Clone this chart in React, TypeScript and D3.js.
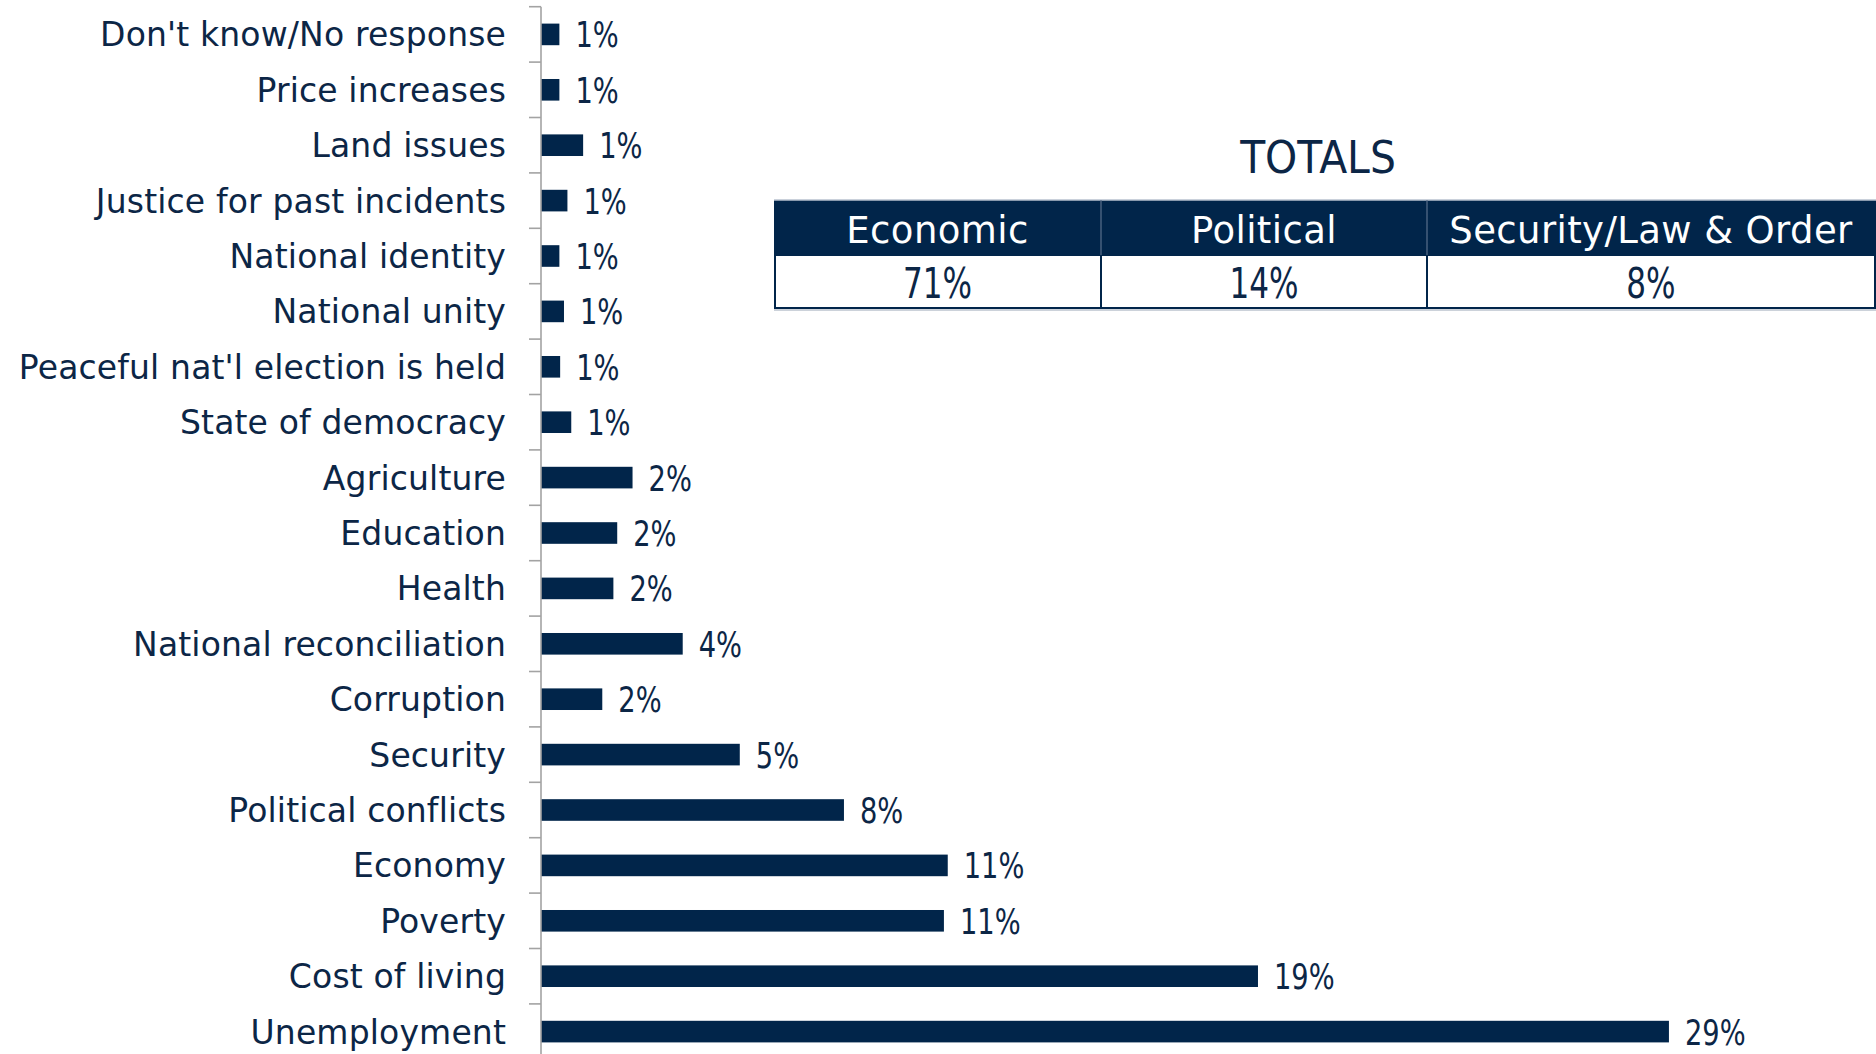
import React from "react";
import * as d3 from "d3";

const categories = [
  "Don't know/No response",
  "Price increases",
  "Land issues",
  "Justice for past incidents",
  "National identity",
  "National unity",
  "Peaceful nat'l election is held",
  "State of democracy",
  "Agriculture",
  "Education",
  "Health",
  "National reconciliation",
  "Corruption",
  "Security",
  "Political conflicts",
  "Economy",
  "Poverty",
  "Cost of living",
  "Unemployment",
];

const values = [
  0.48, 0.48, 1.1, 0.69, 0.48, 0.6, 0.5, 0.79, 2.39, 1.99, 1.89, 3.7, 1.6, 5.19,
  7.91, 10.62, 10.52, 18.72, 29.45,
];

const valueLabels = [
  "1%", "1%", "1%", "1%", "1%", "1%", "1%", "1%", "2%", "2%", "2%", "4%", "2%",
  "5%", "8%", "11%", "11%", "19%", "29%",
];

const totalsTitle = "TOTALS";
const totalsHeaders = ["Economic", "Political", "Security/Law & Order"];
const totalsValues = ["71%", "14%", "8%"];

const W = 1876;
const H = 1054;
const NAVY = "#01254a";
const TEXT = "#0c2646";
const FONT = "'DejaVu Sans', Verdana, sans-serif";

function SText({ x, y, sx, anchor, size, fill, children }: any) {
  return (
    <text
      transform={`translate(${x},${y}) scale(${sx},1)`}
      textAnchor={anchor}
      fontSize={size}
      fill={fill}
    >
      {children}
    </text>
  );
}

export default function App() {
  const axisX = 541;
  const perPct = 38.3;
  const x = d3.scaleLinear().domain([0, 30]).range([axisX, axisX + 30 * perPct]);
  const top = 6.7;
  const step = 55.4;
  const y = d3
    .scaleBand<string>()
    .domain(categories)
    .range([top, top + categories.length * step])
    .paddingInner(0.61)
    .paddingOuter(0.305);
  const bw = y.bandwidth();
  const st = y.step();
  const tickYs = categories.map((c) => (y(c) as number) - (st - bw) / 2);
  tickYs.push((y(categories[categories.length - 1]) as number) + bw + (st - bw) / 2);

  // table layout
  const colEdges = [774, 1101, 1427, 1875];
  const tTop = 200;
  const tMid = 255;
  const tBot = 308;

  return (
    <svg
      width={W}
      height={H}
      style={{ position: "absolute", left: 0, top: 0, background: "#fff" }}
      fontFamily={FONT}
    >
      {/* bars */}
      {categories.map((c, i) => (
        <rect
          key={c}
          x={x(0)}
          y={y(c) as number}
          width={x(values[i]) - x(0)}
          height={bw}
          fill={NAVY}
        />
      ))}
      {/* axis */}
      <line x1={axisX} x2={axisX} y1={top} y2={H} stroke="#a3a3a3" strokeWidth={1.6} />
      {tickYs.map((ty, i) => (
        <line key={i} x1={axisX - 12} x2={axisX} y1={ty} y2={ty} stroke="#a3a3a3" strokeWidth={1.6} />
      ))}
      {/* category labels */}
      {categories.map((c) => (
        <text
          key={c}
          x={506}
          y={(y(c) as number) + bw / 2 + 12}
          textAnchor="end"
          fontSize={33}
          letterSpacing={0.15}
          fill={TEXT}
        >
          {c}
        </text>
      ))}
      {/* value labels */}
      {categories.map((c, i) => (
        <SText
          key={c}
          x={x(values[i]) + 16}
          y={(y(c) as number) + bw / 2 + 13}
          sx={0.78}
          anchor="start"
          size={35}
          fill={TEXT}
        >
          {valueLabels[i]}
        </SText>
      ))}
      {/* totals table */}
      <SText x={1318} y={173} sx={0.93} anchor="middle" size={44} fill={TEXT}>
        {totalsTitle}
      </SText>
      <rect x={colEdges[0]} y={tTop} width={W - colEdges[0]} height={tMid - tTop} fill={NAVY} />
      <line x1={colEdges[0]} x2={W} y1={tTop} y2={tTop} stroke="#b8c2cf" strokeWidth={1.5} />
      <rect
        x={colEdges[0] + 1}
        y={tMid}
        width={colEdges[3] - colEdges[0] - 1}
        height={tBot - tMid}
        fill="#fff"
        stroke={NAVY}
        strokeWidth={2}
      />
      <line x1={colEdges[0]} x2={colEdges[3] + 1} y1={tBot + 2} y2={tBot + 2} stroke="#9aa6b5" strokeWidth={1.2} />
      {colEdges.slice(1, 3).map((cx, i) => (
        <g key={i}>
          <line x1={cx} x2={cx} y1={tTop} y2={tMid} stroke="#5a708c" strokeWidth={1.2} />
          <line x1={cx} x2={cx} y1={tMid} y2={tBot} stroke={NAVY} strokeWidth={2} />
        </g>
      ))}
      {totalsHeaders.map((h, i) => (
        <text
          key={h}
          x={(colEdges[i] + colEdges[i + 1]) / 2}
          y={243}
          textAnchor="middle"
          fontSize={37}
          letterSpacing={0.4}
          fill="#fff"
        >
          {h}
        </text>
      ))}
      {totalsValues.map((v, i) => (
        <SText
          key={i}
          x={(colEdges[i] + colEdges[i + 1]) / 2}
          y={298}
          sx={0.74}
          anchor="middle"
          size={42}
          fill={TEXT}
        >
          {v}
        </SText>
      ))}
    </svg>
  );
}
